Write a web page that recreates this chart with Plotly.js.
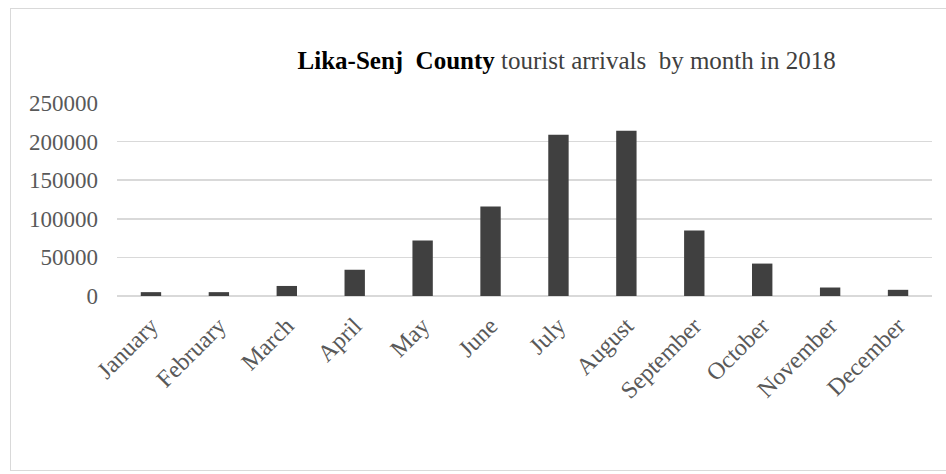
<!DOCTYPE html>
<html>
<head>
<meta charset="utf-8">
<script src="https://cdn.plot.ly/plotly-3.0.1.min.js"></script>
<style>
  html, body { margin: 0; padding: 0; background: #ffffff; }
  #frame {
    position: absolute; left: 10px; top: 8px; width: 940px; height: 463px;
    border: 1px solid #d9d9d9; box-sizing: border-box;
  }
  #chart { position: absolute; left: 0; top: 0; width: 946px; height: 474px; }
</style>
</head>
<body>
<div id="frame"></div>
<div id="chart"></div>
<script>
// Monthly tourist arrivals, Lika-Senj County, 2018
const months = ["January", "February", "March", "April", "May", "June",
                "July", "August", "September", "October", "November", "December"];
const arrivals = [5000, 5000, 13000, 34000, 72000, 116000,
                  209000, 214000, 85000, 42000, 11000, 8000];
const yTicks = [0, 50000, 100000, 150000, 200000, 250000];

const serif = '"Liberation Serif", "Times New Roman", serif';

const trace = {
  type: 'bar',
  x: months,
  y: arrivals,
  marker: { color: '#404040', line: { width: 0 } },
  hoverinfo: 'x+y'
};

const layout = {
  width: 946,
  height: 474,
  paper_bgcolor: 'rgba(0,0,0,0)',
  plot_bgcolor: 'rgba(0,0,0,0)',
  margin: { l: 117, r: 14, t: 103, b: 178 },
  bargap: 0.7,
  showlegend: false,
  title: {
    text: '<b>Lika-Senj&nbsp; County</b> <span style="color:#404040">tourist arrivals&nbsp; by month in 2018</span>',
    font: { family: serif, size: 25, color: '#000000' },
    xref: 'container', yref: 'container',
    x: 0.599, xanchor: 'center',
    y: 0.872, yanchor: 'middle'
  },
  xaxis: {
    type: 'category',
    tickangle: -45,
    tickfont: { family: serif, size: 24, color: '#595959' },
    showgrid: false,
    showline: false,
    ticks: '',
    zeroline: false,
    ticklabelstandoff: 10
  },
  yaxis: {
    range: [0, 250000],
    tickvals: yTicks,
    ticktext: yTicks.map(String),
    tickfont: { family: serif, size: 23, color: '#595959' },
    showgrid: true,
    gridcolor: '#d9d9d9',
    gridwidth: 1.5,
    zeroline: true,
    zerolinecolor: '#d9d9d9',
    zerolinewidth: 1.5,
    showline: false,
    ticks: '',
    ticklabelstandoff: 18
  }
};

Plotly.newPlot('chart', [trace], layout, { displayModeBar: false, staticPlot: true });
</script>
</body>
</html>
